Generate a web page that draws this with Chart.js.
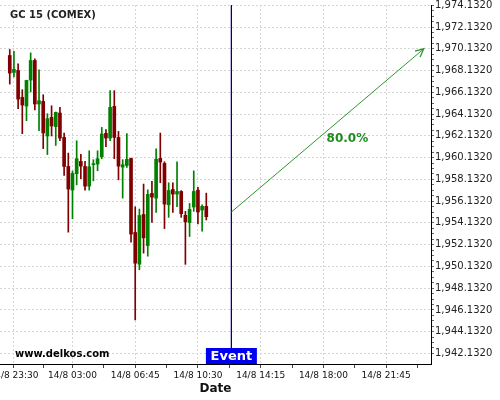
<!DOCTYPE html>
<html>
<head>
<meta charset="utf-8">
<script src="https://cdn.jsdelivr.net/npm/chart.js@4/dist/chart.umd.min.js"></script>
<style>
  html, body { margin: 0; padding: 0; background: #fff; }
  #wrap { width: 500px; height: 400px; }
</style>
</head>
<body>
<div id="wrap"><canvas id="chart" width="500" height="400"></canvas></div>
<script>
// 15 min candles, GC 15 (COMEX)
var times = ['23:15','23:30','23:45','00:00','00:15','00:30','00:45','01:00','01:15','01:30','01:45','02:00',
             '02:15','02:30','02:45','03:00','03:15','03:30','03:45','04:00','04:15','04:30','04:45','05:00',
             '05:15','05:30','05:45','06:00','06:15','06:30','06:45','07:00','07:15','07:30','07:45','08:00',
             '08:15','08:30','08:45','09:00','09:15','09:30','09:45','10:00','10:15','10:30','10:45','11:00'];
var opens  = [1969.52,1967.96,1968.14,1965.67,1964.87,1967.26,1969.06,1965.06,1965.30,1962.12,1963.83,1962.98,
              1964.23,1961.99,1959.32,1957.15,1958.65,1959.78,1959.32,1957.51,1959.48,1959.54,1960.21,1962.36,
              1961.93,1964.84,1961.99,1959.26,1959.41,1960.06,1953.25,1950.34,1954.90,1952.05,1956.84,1956.41,
              1960.06,1959.60,1955.80,1957.20,1956.78,1957.02,1954.83,1954.16,1955.59,1957.14,1955.31,1955.65];
var highs  = [1970.07,1969.89,1968.76,1966.37,1967.25,1969.76,1969.21,1968.20,1965.91,1964.17,1964.90,1964.32,
              1964.75,1962.39,1960.55,1958.90,1961.68,1960.43,1959.78,1960.76,1959.94,1960.76,1962.91,1962.70,
              1966.29,1966.29,1962.54,1959.94,1962.33,1960.10,1955.61,1955.40,1957.70,1957.17,1957.94,1960.95,
              1962.39,1959.75,1957.82,1957.82,1959.74,1957.10,1955.19,1955.92,1958.91,1957.39,1955.80,1956.87];
var lows   = [1966.89,1967.56,1964.63,1962.33,1963.53,1966.16,1964.51,1962.61,1960.96,1960.41,1962.12,1961.25,
              1961.70,1958.50,1953.28,1954.51,1957.63,1958.19,1957.14,1957.14,1958.00,1958.92,1960.03,1961.13,
              1961.68,1960.03,1958.09,1956.41,1959.23,1952.36,1945.21,1949.82,1951.35,1951.07,1954.17,1955.09,
              1957.82,1953.61,1954.64,1955.10,1955.62,1954.64,1950.32,1952.88,1955.19,1954.03,1953.36,1954.40];
var closes = [1967.90,1968.24,1965.51,1964.96,1967.23,1969.06,1965.06,1965.36,1962.40,1963.71,1963.04,1964.29,
              1961.93,1959.32,1957.24,1958.68,1960.03,1959.35,1957.51,1959.29,1959.54,1960.03,1962.30,1961.93,
              1964.75,1961.99,1959.35,1959.48,1959.97,1953.10,1950.43,1954.81,1952.76,1956.75,1956.50,1959.99,
              1959.72,1955.86,1957.11,1956.78,1957.02,1954.98,1954.22,1955.37,1957.02,1955.13,1955.65,1954.70];

// x axis in minutes after 14/8 23:30
var xTickValues = [0, 210, 435, 660, 885, 1110, 1335];
var xTickLabels = ['14/8 23:30','14/8 03:00','14/8 06:45','14/8 10:30','14/8 14:15','14/8 18:00','14/8 21:45'];
var yTickValues = [1942.132,1944.132,1946.132,1948.132,1950.132,1952.132,1954.132,1956.132,1958.132,
                   1960.132,1962.132,1964.132,1966.132,1968.132,1970.132,1972.132,1974.132];

var eventX = 780;          // 12:30
var targetX = 1470;        // 00:00
var arrowFrom = 1955.132;
var arrowTo = 1970.132;
var probability = '80.0%';

var GREEN = '#008000', RED = '#800000';
var GRID = '#d6d6d6';
var FONT = "'DejaVu Sans', sans-serif";

function toMinutes(s) {
  var p = s.split(':');
  var m = (+p[0]) * 60 + (+p[1]) - 1410;
  if (m < -60) m += 1440;
  return m;
}
var xs = times.map(toMinutes);

function candleColor(ctx) {
  var i = ctx.dataIndex;
  if (i == null) return GREEN;
  return closes[i] >= opens[i] ? GREEN : RED;
}

var overlay = {
  id: 'overlay',
  afterDatasetsDraw: function(chart) {
    var c = chart.ctx, area = chart.chartArea;
    var xS = chart.scales.x;

    // arrow head
    var meta = chart.getDatasetMeta(3);
    var p0 = meta.data[0], p1 = meta.data[1];
    var ang = Math.atan2(p1.y - p0.y, p1.x - p0.x);
    c.save();
    c.strokeStyle = '#2e962e';
    c.lineWidth = 1.3;
    c.beginPath();
    c.moveTo(p1.x - 9 * Math.cos(ang - 0.45), p1.y - 9 * Math.sin(ang - 0.45));
    c.lineTo(p1.x, p1.y);
    c.lineTo(p1.x - 9 * Math.cos(ang + 0.45), p1.y - 9 * Math.sin(ang + 0.45));
    c.stroke();

    // probability label
    c.fillStyle = '#1e8c1e';
    c.font = 'bold 12px ' + FONT;
    c.textAlign = 'left';
    c.textBaseline = 'top';
    c.fillText(probability, (p0.x + p1.x) / 2 - 1, (p0.y + p1.y) / 2 + 2);

    // title + watermark
    c.fillStyle = '#222';
    c.font = 'bold 10px ' + FONT;
    c.textBaseline = 'middle';
    c.fillText('GC 15 (COMEX)', 10, 15);
    c.fillStyle = '#000';
    c.fillText('www.delkos.com', 15, 354);

    // event box
    var ex = xS.getPixelForValue(eventX);
    c.fillStyle = '#0000f0';
    c.fillRect(ex - 25.5, area.bottom - 16, 51, 16);
    c.fillStyle = '#fff';
    c.font = 'bold 13px ' + FONT;
    c.textAlign = 'center';
    c.fillText('Event', ex, area.bottom - 7.5);
    c.restore();
  }
};

var chart = new Chart(document.getElementById('chart'), {
  type: 'bar',
  data: {
    datasets: [
      {
        label: 'wick',
        data: xs.map(function(x, i) { return { x: x, y: [lows[i], highs[i]] }; }),
        backgroundColor: candleColor,
        barThickness: 1,
        grouped: false,
        order: 3
      },
      {
        label: 'body',
        data: xs.map(function(x, i) { return { x: x, y: [opens[i], closes[i]] }; }),
        backgroundColor: candleColor,
        barThickness: 3,
        minBarLength: 1,
        grouped: false,
        order: 2
      },
      {
        type: 'line',
        label: 'event',
        data: [{ x: eventX, y: yTickValues[yTickValues.length - 1] }, { x: eventX, y: 1941.16 }],
        borderColor: '#00008c',
        borderWidth: 1,
        pointRadius: 0,
        order: 1
      },
      {
        type: 'line',
        label: 'forecast',
        data: [{ x: eventX, y: arrowFrom }, { x: targetX, y: arrowTo }],
        borderColor: '#2e962e',
        borderWidth: 1,
        pointRadius: 0,
        order: 0
      }
    ]
  },
  options: {
    responsive: false,
    animation: false,
    layout: { padding: { top: 5, left: 0, right: 0, bottom: 0 } },
    plugins: { legend: { display: false }, tooltip: { enabled: false } },
    scales: {
      x: {
        type: 'linear',
        min: -50,
        max: 1496,
        offset: false,
        afterBuildTicks: function(scale) {
          var t = [];
          xTickValues.forEach(function(v, i) {
            t.push({ value: v });
            var next = i < xTickValues.length - 1 ? xTickValues[i + 1] : v + 225;
            t.push({ value: (v + next) / 2, minor: true });
          });
          scale.ticks = t;
        },
        afterFit: function(scale) {
          scale.height = 36;
          scale.paddingLeft = 0;
          scale.paddingRight = 0;
        },
        ticks: {
          autoSkip: false,
          maxRotation: 0,
          padding: 2,
          color: '#111',
          font: { family: FONT, size: 9 },
          callback: function(v) {
            var i = xTickValues.indexOf(v);
            return i >= 0 ? xTickLabels[i] : '';
          }
        },
        grid: {
          offset: false,
          color: function(ctx) { return ctx.tick && ctx.tick.minor ? 'rgba(0,0,0,0)' : GRID; },
          tickColor: '#444',
          tickLength: 4
        },
        border: { display: true, color: '#000', width: 1, dash: [2, 2] },
        title: {
          display: true,
          text: 'Date',
          color: '#111',
          font: { family: FONT, size: 12, weight: 'bold' },
          padding: { top: 2, bottom: 4 }
        }
      },
      y: {
        type: 'linear',
        position: 'right',
        min: 1941.16,
        max: 1974.16,
        afterBuildTicks: function(scale) {
          var t = [];
          yTickValues.forEach(function(v) {
            t.push({ value: v });
            [0.5, 1, 1.5].forEach(function(d) {
              if (v + d < scale.max) t.push({ value: v + d, minor: true });
            });
          });
          scale.ticks = t;
        },
        afterFit: function(scale) {
          scale.width = 69;
          scale.paddingTop = 0;
          scale.paddingBottom = 0;
        },
        ticks: {
          autoSkip: false,
          padding: 1,
          color: '#222',
          font: { family: FONT, size: 10, lineHeight: 1 },
          callback: function(v) {
            if (yTickValues.indexOf(v) < 0) return '';
            return v.toLocaleString('en-US', { minimumFractionDigits: 4, maximumFractionDigits: 4 });
          }
        },
        grid: {
          color: function(ctx) { return ctx.tick && ctx.tick.minor ? 'rgba(0,0,0,0)' : GRID; },
          tickColor: '#666',
          tickLength: 3
        },
        border: { display: true, color: '#000', width: 1, dash: [2, 2] }
      }
    }
  },
  plugins: [overlay]
});
</script>
</body>
</html>
